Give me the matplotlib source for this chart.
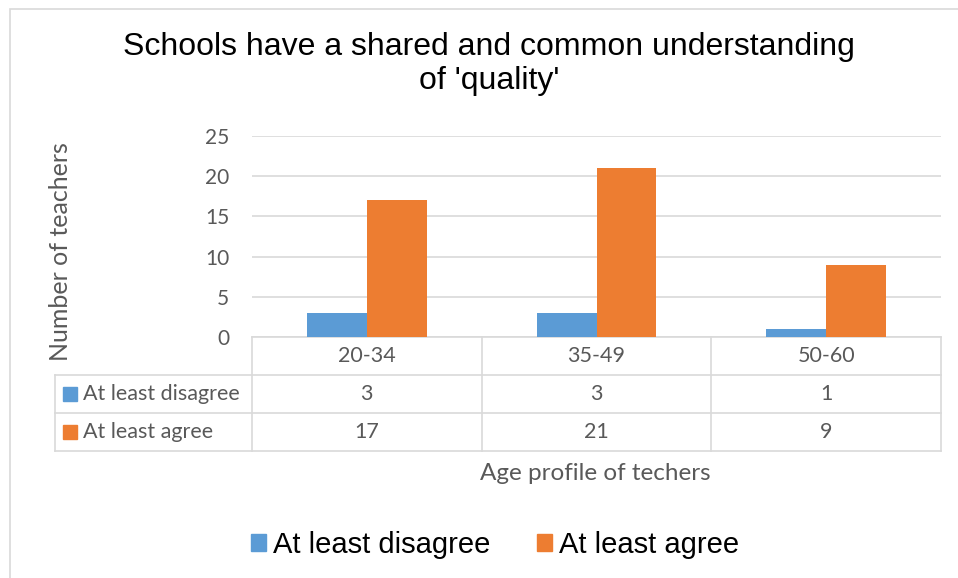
import matplotlib.pyplot as plt
import matplotlib.transforms as mtransforms
from matplotlib.patches import Rectangle
import numpy as np

categories = ['20-34', '35-49', '50-60']
series_names = ['At least disagree', 'At least agree']
disagree = [3, 3, 1]
agree = [17, 21, 9]
colors = ['#5B9BD5', '#ED7D31']

W, H = 958, 578
gray = '#595959'
line_c = '#D9D9D9'
body_font = 'Lato'
body_size = 15.5

fig = plt.figure(figsize=(W / 100, H / 100), dpi=100)

# outer chart border
fig.patches.append(Rectangle((10 / W, -0.1), 1.2, 1 - 9 / H + 0.1, transform=fig.transFigure,
                             fill=False, edgecolor=line_c, lw=1.2))

# plot area in pixel coords
left, right, top, bottom = 252, 941, 136, 337
ax = fig.add_axes([left / W, 1 - bottom / H, (right - left) / W, (bottom - top) / H])

x = np.arange(len(categories))
bw = 0.26
ax.bar(x - bw / 2, disagree, bw, color=colors[0], zorder=3)
ax.bar(x + bw / 2, agree, bw, color=colors[1], zorder=3)

ax.set_xlim(-0.5, len(categories) - 0.5)
ax.set_ylim(0, 25)
ax.set_yticks(range(0, 26, 5))
ax.grid(axis='y', color=line_c, lw=1.2, zorder=0)
ax.set_xticks([])
for s in ax.spines.values():
    s.set_visible(False)
ax.tick_params(axis='y', length=0, pad=16.5, labelsize=15, labelcolor=gray)
for lab in ax.get_yticklabels():
    lab.set_fontfamily(body_font)

# data table under the axis
trans = mtransforms.blended_transform_factory(ax.transData, ax.transAxes)
row_h = 38 / (bottom - top)
cat_w = (right - left) / len(categories)
x_left = -0.5 - (left - 55) / cat_w
xr = len(categories) - 0.5
kw = dict(color=line_c, lw=1.2, clip_on=False, transform=trans)

ax.plot([-0.5, xr], [0, 0], **kw)
for i in range(1, 4):
    ax.plot([x_left, xr], [-i * row_h] * 2, **kw)
for xv in np.arange(-0.5, len(categories), 1.0):
    ax.plot([xv, xv], [0, -3 * row_h], **kw)
ax.plot([x_left, x_left], [-row_h, -3 * row_h], **kw)

txt = dict(transform=trans, ha='center', va='center', fontsize=body_size, color=gray,
           family=body_font, clip_on=False)
for i, c in enumerate(categories):
    ax.text(i, -0.5 * row_h, c, **txt)
    ax.text(i, -1.5 * row_h, str(disagree[i]), **txt)
    ax.text(i, -2.5 * row_h, str(agree[i]), **txt)

for r, (name, col) in enumerate(zip(series_names, colors)):
    yc = -(1.5 + r) * row_h
    ax.add_patch(Rectangle((x_left + 8 / cat_w, yc - 7 / (bottom - top)), 14 / cat_w, 14 / (bottom - top),
                           transform=trans, color=col, clip_on=False))
    ax.text(x_left + 28 / cat_w, yc, name, transform=trans, ha='left', va='center', fontsize=body_size,
            color=gray, family=body_font, clip_on=False)

# labels
fig.text(60 / W, 1 - 252 / H, 'Number of teachers', rotation=90, ha='center', va='center',
         fontsize=18, color=gray, family=body_font)
fig.text(595 / W, 1 - 473 / H, 'Age profile of techers', ha='center', va='center',
         fontsize=17.5, color=gray, family=body_font)
fig.text(489 / W, 1 - 64 / H, "Schools have a shared and common understanding\nof 'quality'",
         ha='center', va='center', fontsize=23, color='black', family='Liberation Sans',
         linespacing=1.2)

handles = [Rectangle((0, 0), 1, 1, color=c) for c in colors]
fig.legend(handles, series_names, loc='center', bbox_to_anchor=(495 / W, 1 - 545 / H),
           ncol=2, frameon=False, handlelength=0.5, handleheight=0.5, handletextpad=0.25,
           columnspacing=1.6, borderpad=0, prop={'family': 'Liberation Sans', 'size': 21})

fig.savefig('out.png', dpi=100)
